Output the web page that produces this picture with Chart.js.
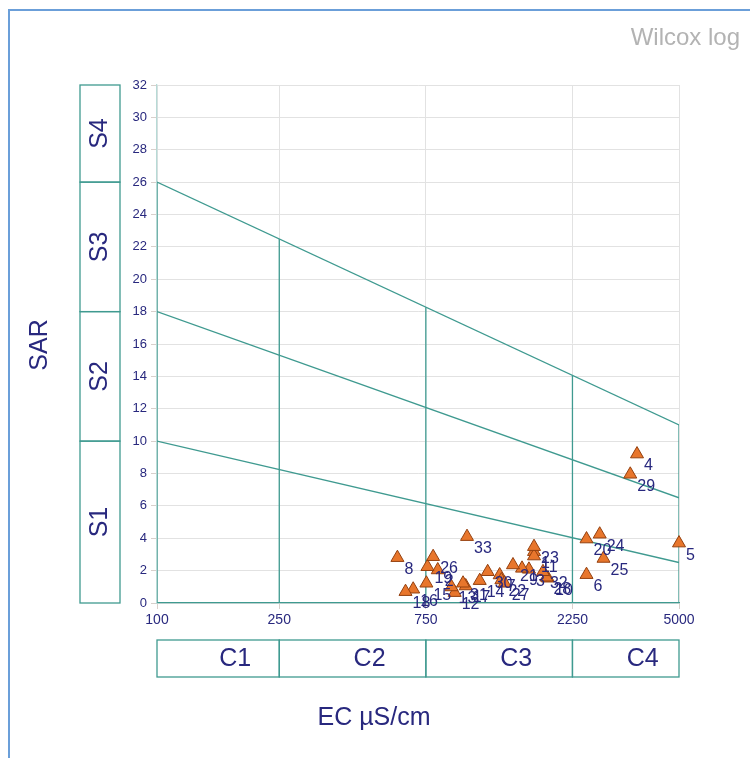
<!DOCTYPE html>
<html>
<head>
<meta charset="utf-8">
<title>Wilcox log</title>
<script src="https://cdn.jsdelivr.net/npm/chart.js@4/dist/chart.umd.min.js"></script>
<style>
  html, body { margin: 0; padding: 0; background: #ffffff; }
  #wrap { width: 750px; height: 758px; position: relative; }
</style>
</head>
<body>
<div id="wrap"><canvas id="wilcox" width="750" height="758"></canvas></div>
<script>
// Samples: id, electrical conductivity (µS/cm) and sodium adsorption ratio
const sampleIds = [1, 2, 3, 4, 5, 6, 7, 8, 9, 10, 11, 12, 13, 14, 15, 16, 17,
                   18, 19, 20, 21, 22, 23, 24, 25, 26, 27, 28, 29, 30, 31, 32, 33];
const ecValues  = [1687, 820, 1624, 3650, 5000, 2500, 1304, 606, 1542, 1873, 1687, 931, 909, 1123, 753, 682, 1011,
                   644, 759, 2500, 1441, 1321, 1687, 2760, 2840, 792, 1354, 1851, 3470, 1192, 991, 1804, 1021];
const sarValues = [3.17, 2.04, 2.08, 9.2, 3.7, 1.75, 1.73, 2.8, 2.14, 1.53, 2.9, 0.64, 0.99, 1.38, 1.22, 0.85, 1.05,
                   0.7, 2.24, 3.95, 2.35, 1.42, 3.48, 4.25, 2.75, 2.86, 1.22, 1.59, 7.95, 1.93, 1.22, 1.93, 4.1];

// Axis ticks and class boundaries
const ecTicks = [100, 250, 750, 2250, 5000];
const salinityClasses = ['C1', 'C2', 'C3', 'C4'];
const sodiumClasses = ['S1', 'S2', 'S3', 'S4'];
const sodiumBreaks = [0, 10, 18, 26, 32];

// Sodium hazard boundary lines: SAR at EC = 100 and at EC = 5000
const hazardAtLow  = [10, 18, 26];
const hazardAtHigh = [2.5, 6.5, 11];

const TEAL = '#3f9a90';
const NAVY = '#28287e';
const FONT = '"Liberation Sans", Arial, sans-serif';

// Top hazard line value at a given EC (straight in log space)
function topLineAt(ec) {
  const t = Math.log(ec / ecTicks[0]) / Math.log(ecTicks[ecTicks.length - 1] / ecTicks[0]);
  return hazardAtLow[2] + (hazardAtHigh[2] - hazardAtLow[2]) * t;
}

const lineStyle = {
  type: 'scatter', showLine: true, pointRadius: 0, pointHoverRadius: 0,
  borderColor: TEAL, borderWidth: 1.3, fill: false, order: 5
};

const datasets = [];
datasets.push({
  label: 'samples',
  data: ecValues.map((x, i) => ({ x: x, y: sarValues[i] })),
  pointStyle: 'triangle',
  pointRadius: 7.5,
  pointHoverRadius: 7.5,
  backgroundColor: '#e8762c',
  borderColor: '#94400f',
  borderWidth: 1,
  clip: false,
  order: 0
});
hazardAtLow.forEach((v, i) => {
  datasets.push(Object.assign({}, lineStyle, {
    label: 'hazard' + i,
    data: [{ x: ecTicks[0], y: v }, { x: ecTicks[ecTicks.length - 1], y: hazardAtHigh[i] }]
  }));
});
ecTicks.forEach((ec, i) => {
  datasets.push(Object.assign({}, lineStyle, {
    label: 'salinity' + i,
    data: [{ x: ec, y: 0 }, { x: ec, y: topLineAt(ec) }]
  }));
});

const decorations = {
  id: 'decorations',
  beforeDraw(chart) {
    const ctx = chart.ctx;
    ctx.save();
    ctx.fillStyle = '#ffffff';
    ctx.fillRect(0, 0, chart.width, chart.height);
    // frame
    ctx.strokeStyle = '#6b9fd9';
    ctx.lineWidth = 2;
    ctx.beginPath();
    ctx.moveTo(9, 760);
    ctx.lineTo(9, 10);
    ctx.lineTo(752, 10);
    ctx.stroke();
    // title
    ctx.fillStyle = '#b3b3b3';
    ctx.font = '24px ' + FONT;
    ctx.textAlign = 'right';
    ctx.textBaseline = 'middle';
    ctx.fillText('Wilcox log', 740, 38);
    ctx.restore();
  },
  afterDatasetsDraw(chart) {
    const ctx = chart.ctx;
    const xs = chart.scales.x, ys = chart.scales.y;
    ctx.save();
    // sample labels
    const meta = chart.getDatasetMeta(0);
    ctx.fillStyle = NAVY;
    ctx.font = '16px ' + FONT;
    ctx.textAlign = 'left';
    ctx.textBaseline = 'middle';
    meta.data.forEach((pt, i) => {
      ctx.fillText(String(sampleIds[i]), pt.x + 7, pt.y + 12);
    });

    ctx.strokeStyle = TEAL;
    ctx.lineWidth = 1.3;
    // sodium class boxes
    for (let i = 0; i < sodiumClasses.length; i++) {
      const yb = ys.getPixelForValue(sodiumBreaks[i]);
      const yt = ys.getPixelForValue(sodiumBreaks[i + 1]);
      ctx.strokeRect(80, yt, 40, yb - yt);
      ctx.save();
      ctx.translate(100, (yb + yt) / 2);
      ctx.rotate(-Math.PI / 2);
      ctx.fillStyle = NAVY;
      ctx.font = '25px ' + FONT;
      ctx.textAlign = 'center';
      ctx.textBaseline = 'middle';
      ctx.fillText(sodiumClasses[i], 0, 0);
      ctx.restore();
    }
    // salinity class boxes
    for (let i = 0; i < salinityClasses.length; i++) {
      const xl = xs.getPixelForValue(ecTicks[i]);
      const xr = xs.getPixelForValue(ecTicks[i + 1]);
      ctx.strokeRect(xl, 640, xr - xl, 37);
      ctx.fillStyle = NAVY;
      ctx.font = '25px ' + FONT;
      ctx.textAlign = 'center';
      ctx.textBaseline = 'middle';
      ctx.fillText(salinityClasses[i], (xl + xr) / 2 + 17, 659);
    }
    // axis titles
    ctx.fillStyle = NAVY;
    ctx.font = '25px ' + FONT;
    ctx.textAlign = 'center';
    ctx.textBaseline = 'middle';
    ctx.fillText('EC µS/cm', 374, 718);
    ctx.translate(40, 345);
    ctx.rotate(-Math.PI / 2);
    ctx.fillText('SAR', 0, 0);
    ctx.restore();
  }
};

new Chart(document.getElementById('wilcox'), {
  type: 'scatter',
  data: { datasets: datasets },
  options: {
    responsive: false,
    animation: false,
    devicePixelRatio: 1,
    layout: { padding: { top: 85, right: 71, left: 0, bottom: 0 } },
    plugins: { legend: { display: false }, tooltip: { enabled: false } },
    scales: {
      x: {
        type: 'logarithmic',
        min: ecTicks[0],
        max: ecTicks[ecTicks.length - 1],
        afterBuildTicks: s => { s.ticks = ecTicks.map(v => ({ value: v })); },
        afterFit: s => { s.height = 155; },
        ticks: {
          autoSkip: false, maxRotation: 0,
          color: NAVY, font: { family: FONT, size: 14 }, padding: 3,
          callback: v => String(v)
        },
        grid: { color: '#e2e2e2', tickColor: '#d8d0cc', tickLength: 6, lineWidth: 1 },
        border: { color: TEAL, width: 1.3 }
      },
      y: {
        type: 'linear',
        min: 0, max: 32,
        afterFit: s => { s.width = 157; },
        ticks: {
          stepSize: 2,
          color: NAVY, font: { family: FONT, size: 13 }, padding: 4
        },
        grid: { color: '#e2e2e2', tickColor: '#d8d0cc', tickLength: 6, lineWidth: 1 },
        border: { color: '#b7dad6', width: 1.3 }
      }
    }
  },
  plugins: [decorations]
});
</script>
</body>
</html>
